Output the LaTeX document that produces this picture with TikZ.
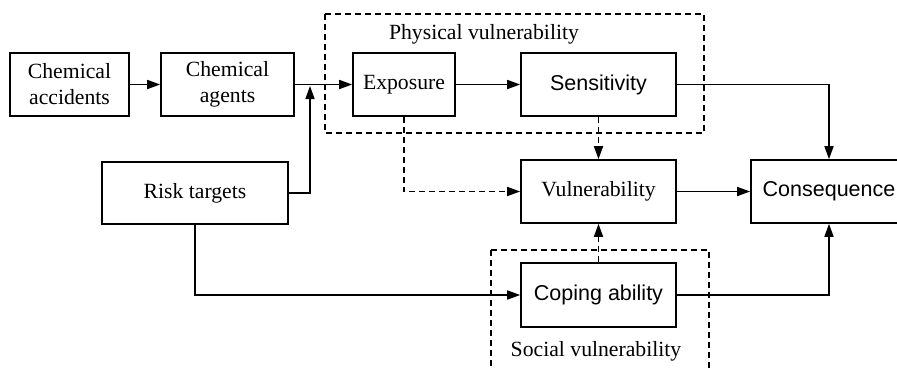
\documentclass[tikz,border=0pt]{standalone}
\usepackage{fontspec}
\setmainfont{Liberation Serif}
\setsansfont{Liberation Sans}
\usetikzlibrary{arrows.meta}
\begin{document}
\begin{tikzpicture}[x=1pt,y=-1pt,>={Triangle[length=13pt,width=9pt]},line width=1.6pt,
  every node/.style={font=\fontsize{21.7}{26}\selectfont},
  box/.style={draw,align=center,minimum height=63pt,inner sep=0pt},
  sans/.style={font=\fontsize{21.5}{26}\selectfont\sffamily},
  group/.style={draw,dash pattern=on 6pt off 4pt,line width=1.4pt},
  link/.style={->,dash pattern=on 6pt off 4pt}]
  \clip (0,0) rectangle (897,369);
  \draw[group] (325,14) rectangle (704,133);
  \draw[group] (491,250) rectangle (709,390);
  \node (physlbl) at (484,34) {Physical vulnerability};
  \node (soclbl) at (596,351) {Social vulnerability};
  \node[box,minimum width=119pt] (accidents) at (69.5,84.5) {Chemical\\accidents};
  \node[box,minimum width=133pt] (agents) at (227.5,84.5) {Chemical\\agents};
  \node[box,minimum width=102pt] (exposure) at (404,84.5) {Exposure};
  \node[box,sans,minimum width=155pt] (sensitivity) at (598.5,84.5) {Sensitivity};
  \node[box,minimum width=186pt,minimum height=62pt] (targets) at (195,193) {Risk targets};
  \node[box,minimum width=155pt] (vuln) at (598.5,191.5) {Vulnerability};
  \node[box,sans,minimum width=156pt] (conseq) at (829,191.5) {Consequence};
  \node[box,sans,minimum width=155pt,minimum height=64pt] (coping) at (598.5,295) {Coping ability};
  \coordinate (merge) at (310,86);
  \draw[->] (accidents) -- (agents);
  \draw[->] (agents) -- (exposure);
  \draw[->] (targets.east) -| (merge);
  \draw[->] (exposure) -- (sensitivity);
  \draw[link] (exposure.south) |- (vuln.west);
  \draw[link] (sensitivity) -- (vuln);
  \draw[link] (coping) -- (vuln);
  \draw[->] (sensitivity.east) -| (conseq.north);
  \draw[->] (vuln) -- (conseq);
  \draw[->] (targets.south) |- (coping.west);
  \draw[->] (coping.east) -| (conseq.south);
\end{tikzpicture}
\end{document}
